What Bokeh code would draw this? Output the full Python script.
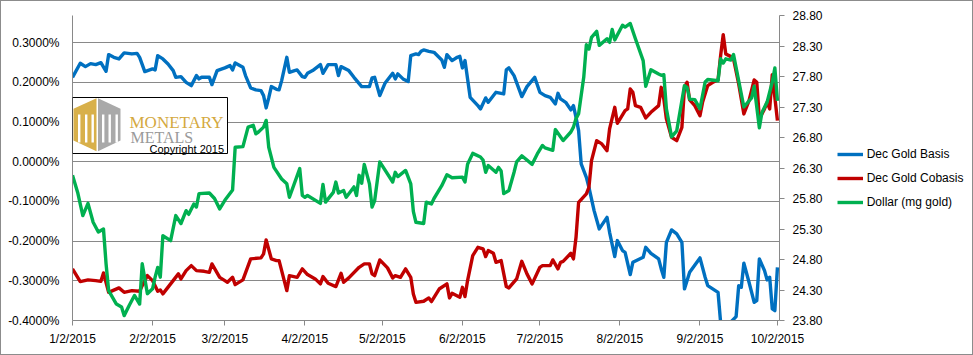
import pandas as pd
from bokeh.plotting import figure
from bokeh.layouts import row
from bokeh.models import (Range1d, LinearAxis, FixedTicker, PrintfTickFormatter, Legend,
                          LegendItem, BoxAnnotation, PolyAnnotation, Label)
from bokeh.embed import file_html
from bokeh.resources import INLINE

# ---------------- data (days counted from 2015-01-02) ----------------
START = pd.Timestamp("2015-01-02")

basis_day = [0, 3, 5, 7, 9, 11, 13, 14, 16, 18, 20, 23, 25, 26, 28, 31, 32, 33, 35, 37, 39, 40, 42, 44,
             46, 47, 48, 49, 50, 53, 54, 56, 59, 61, 62, 63, 66, 67, 69, 71, 73, 74, 75, 76, 77, 79, 80,
             81, 83, 84, 86, 87, 89, 90, 91, 93, 96, 97, 99, 102, 103, 104, 107, 109, 112, 115, 116, 117,
             119, 121, 124, 125, 126, 128, 130, 131, 133, 134, 135, 136, 138, 140, 143, 144, 145, 147,
             149, 150, 151, 152, 154, 157, 158, 160, 161, 164, 167, 168, 169, 171, 174, 176, 179, 181,
             183, 185, 187, 188, 189, 191, 193, 194, 195, 196, 197, 199, 200, 202, 204, 207, 208, 210,
             211, 213, 214, 216, 217, 221, 222, 224, 227, 228, 229, 230, 232, 234, 236, 237, 239, 243,
             245, 246, 250, 251, 254, 257, 258, 259, 260, 262, 264, 265, 266, 268, 269, 270, 271, 272, 273]
basis_pct = [0.2126, 0.2479, 0.2395, 0.2471, 0.2446, 0.2496, 0.2277, 0.2698, 0.2630, 0.2589, 0.2741,
             0.2715, 0.2730, 0.2630, 0.2270, 0.2338, 0.2312, 0.2673, 0.2589, 0.2463, 0.2295, 0.2126,
             0.2144, 0.2000, 0.1917, 0.2043, 0.2169, 0.2086, 0.2126, 0.2126, 0.1942, 0.2295, 0.2363,
             0.2421, 0.2312, 0.2489, 0.2378, 0.2169, 0.1859, 0.1809, 0.1791, 0.1665, 0.1355, 0.1607,
             0.1892, 0.1824, 0.1809, 0.2043, 0.2630, 0.2252, 0.2295, 0.2312, 0.2144, 0.2126, 0.2227,
             0.2295, 0.2446, 0.2227, 0.2446, 0.2446, 0.2169, 0.2395, 0.2295, 0.2126, 0.1892, 0.1892,
             0.2111, 0.2126, 0.1665, 0.1975, 0.2227, 0.2086, 0.2212, 0.2086, 0.2018, 0.2673, 0.2715,
             0.2698, 0.2781, 0.2816, 0.2781, 0.2756, 0.2564, 0.2378, 0.2698, 0.2547, 0.2630, 0.2655,
             0.2363, 0.2547, 0.1622, 0.1413, 0.1330, 0.1607, 0.1496, 0.1748, 0.1708, 0.2312, 0.2363,
             0.2169, 0.1640, 0.1892, 0.2126, 0.1748, 0.1665, 0.1622, 0.1456, 0.1723, 0.1582, 0.1496,
             0.1305, 0.1413, 0.1118, 0.0783, -0.0055, -0.0393, -0.0645, -0.1232, -0.1693, -0.1401,
             -0.1778, -0.2390, -0.1987, -0.2239, -0.2282, -0.2844, -0.2534, -0.2408, -0.2156, -0.2307,
             -0.2448, -0.2700, -0.2912, -0.2030, -0.1718, -0.1819, -0.2030, -0.3204, -0.2786, -0.2423,
             -0.2912, -0.3121, -0.3290, -0.4050, -0.4100, -0.3902, -0.3121, -0.3164, -0.2559, -0.3038,
             -0.3542, -0.3499, -0.2448, -0.2743, -0.2977, -0.2912, -0.3708, -0.3751, -0.2660]

cobasis_day = [0, 3, 6, 9, 11, 12, 14, 18, 20, 23, 26, 27, 29, 31, 33, 34, 35, 38, 41, 42, 44, 46, 48,
               51, 53, 54, 57, 59, 60, 62, 63, 66, 69, 73, 74, 75, 77, 79, 80, 83, 84, 87, 89, 91, 94,
               96, 97, 99, 102, 104, 105, 107, 111, 113, 115, 116, 117, 119, 122, 124, 125, 127, 129,
               131, 132, 133, 136, 138, 139, 142, 145, 146, 147, 150, 151, 152, 153, 155, 157, 159,
               160, 161, 163, 164, 166, 168, 169, 172, 174, 176, 178, 181, 182, 185, 186, 188, 189,
               190, 193, 194, 195, 196, 199, 200, 201, 203, 205, 207, 208, 210, 211, 214, 215, 216,
               217, 218, 220, 222, 224, 227, 228, 229, 230, 232, 234, 236, 237, 238, 239, 241, 243,
               244, 246, 248, 250, 251, 252, 253, 255, 256, 258, 260, 262, 264, 265, 266, 268, 269,
               270, 271, 272, 273]
cobasis_pct = [-0.2700, -0.3020, -0.2977, -0.2995, -0.3013, -0.2801, -0.3290, -0.3179, -0.3290,
               -0.3247, -0.3264, -0.3121, -0.2869, -0.2995, -0.3264, -0.3229, -0.3330, -0.3078,
               -0.2826, -0.2952, -0.2743, -0.2617, -0.2743, -0.2761, -0.2786, -0.2574, -0.2912,
               -0.2995, -0.3038, -0.2912, -0.3096, -0.2977, -0.2448, -0.2423, -0.2322, -0.1970,
               -0.2448, -0.2491, -0.2491, -0.3247, -0.2869, -0.2912, -0.2700, -0.2844, -0.2952,
               -0.3078, -0.2894, -0.3063, -0.3146, -0.2811, -0.3038, -0.2927, -0.2660, -0.2574,
               -0.2574, -0.2826, -0.2869, -0.2474, -0.2675, -0.2927, -0.2869, -0.2912, -0.2700,
               -0.2912, -0.3330, -0.3542, -0.3516, -0.3431, -0.3524, -0.3207, -0.3078, -0.3431,
               -0.3315, -0.3416, -0.3164, -0.3398, -0.2995, -0.2365, -0.2156, -0.2196, -0.2390,
               -0.2239, -0.2307, -0.2534, -0.2491, -0.3146, -0.3179, -0.2952, -0.2509, -0.2826,
               -0.3078, -0.2660, -0.2617, -0.2617, -0.2474, -0.2700, -0.2534, -0.2509, -0.2307,
               -0.2448, -0.1904, -0.1023, -0.0811, -0.0645, 0.0028, 0.0531, 0.0448, 0.0280, 0.0826,
               0.1370, 0.0967, 0.1287, 0.1330, 0.1834, 0.1748, 0.1413, 0.1370, 0.1103, 0.1244,
               0.1413, 0.1874, 0.1582, 0.1078, 0.0615, 0.0531, 0.0866, 0.1874, 0.2000, 0.1557,
               0.1413, 0.1161, 0.1496, 0.1917, 0.2000, 0.2060, 0.2673, 0.3202, 0.2715, 0.2647,
               0.2589, 0.1960, 0.1204, 0.1539, 0.2060, 0.2000, 0.1078, 0.1330, 0.1496, 0.1330,
               0.2194, 0.1622, 0.1035]

dollar_day = [0, 2, 4, 6, 8, 10, 12, 13, 14, 17, 19, 20, 22, 24, 26, 27, 29, 31, 32, 33, 34, 35, 38,
              40, 42, 44, 45, 47, 48, 49, 53, 55, 57, 59, 62, 63, 66, 68, 70, 71, 72, 74, 75, 76, 78,
              81, 83, 84, 88, 89, 90, 91, 96, 97, 98, 101, 102, 103, 105, 106, 109, 110, 111, 112,
              113, 115, 116, 117, 119, 124, 125, 126, 129, 131, 132, 133, 136, 137, 139, 140, 143,
              145, 147, 151, 152, 153, 155, 158, 159, 160, 161, 164, 165, 166, 167, 169, 171, 172,
              174, 178, 180, 182, 183, 186, 187, 190, 193, 194, 195, 196, 198, 199, 200, 201, 203,
              204, 207, 208, 209, 210, 213, 214, 216, 218, 221, 222, 224, 227, 228, 229, 230, 232,
              234, 237, 238, 239, 241, 243, 245, 246, 250, 251, 252, 253, 255, 256, 260, 263, 264,
              266, 267, 269, 271, 272, 273]
dollar_mg = [26.18, 25.90, 25.52, 25.72, 25.41, 25.25, 25.30, 24.73, 24.29, 24.07, 24.02, 23.88,
             24.05, 24.21, 24.07, 24.73, 24.24, 24.32, 24.51, 24.67, 24.51, 25.19, 25.11, 25.52,
             25.39, 25.60, 25.54, 25.71, 25.66, 25.88, 25.89, 25.80, 25.63, 25.77, 25.94, 26.64,
             26.65, 26.97, 27.00, 26.86, 26.89, 26.97, 27.08, 26.64, 26.31, 26.12, 26.04, 25.82,
             26.29, 25.85, 25.82, 25.85, 25.72, 26.03, 25.74, 25.90, 26.07, 25.89, 25.93, 25.82,
             25.99, 25.85, 26.18, 26.05, 26.36, 26.04, 25.66, 25.76, 26.40, 26.07, 26.23, 26.16,
             26.26, 26.04, 25.59, 25.41, 25.39, 25.74, 25.71, 25.80, 26.01, 26.19, 26.14, 26.15,
             26.07, 26.36, 26.54, 26.48, 26.43, 26.23, 26.34, 26.23, 26.31, 26.25, 25.88, 25.93,
             26.23, 26.40, 26.50, 26.36, 26.53, 26.67, 26.63, 26.59, 26.93, 26.75, 26.89, 26.97,
             27.11, 27.19, 27.79, 28.32, 28.25, 28.44, 28.54, 28.31, 28.42, 28.36, 28.57, 28.40,
             28.64, 28.61, 28.67, 28.42, 28.06, 27.64, 27.91, 27.84, 27.82, 27.83, 27.27, 26.81,
             26.91, 27.65, 27.62, 27.43, 27.42, 27.27, 27.71, 27.75, 27.73, 28.09, 28.02, 28.09,
             28.07, 28.16, 27.30, 27.45, 27.64, 26.96, 27.21, 27.38, 27.71, 27.94, 27.40]

series_names = ["Dec Gold Basis", "Dec Gold Cobasis", "Dollar (mg gold)"]
series_colors = ["#0070C0", "#C00000", "#00B050"]

x_tick_dates = ["2015-01-02", "2015-02-02", "2015-03-02", "2015-04-02", "2015-05-02",
                "2015-06-02", "2015-07-02", "2015-08-02", "2015-09-02", "2015-10-02"]
x_tick_labels = ["1/2/2015", "2/2/2015", "3/2/2015", "4/2/2015", "5/2/2015",
                 "6/2/2015", "7/2/2015", "8/2/2015", "9/2/2015", "10/2/2015"]
left_ticks = [-0.4, -0.3, -0.2, -0.1, 0.0, 0.1, 0.2, 0.3]
right_ticks = [23.8, 24.3, 24.8, 25.3, 25.8, 26.3, 26.8, 27.3, 27.8, 28.3, 28.8]


def to_dates(days):
    return [START + pd.Timedelta(days=d) for d in days]


GRAY = "#898989"
FONT = "Liberation Sans"
LW = 3.4
MAIN_W = 825
LEG_W = 971 - MAIN_W
H = 353

p = figure(width=MAIN_W, height=H, x_axis_type="datetime", output_backend="svg",
           toolbar_location=None,
           x_range=Range1d(START, START + pd.Timedelta(days=273.8)),
           y_range=Range1d(-0.4, 0.3683),
           min_border_left=71, min_border_right=MAIN_W - 778, min_border_top=14,
           min_border_bottom=34)
p.outline_line_color = None
p.background_fill_color = "white"
p.border_fill_color = "white"

p.extra_y_ranges = {"dollar": Range1d(23.8, 28.8)}

series = [(to_dates(basis_day), basis_pct, "default"),
          (to_dates(cobasis_day), cobasis_pct, "default"),
          (to_dates(dollar_day), dollar_mg, "dollar")]

# lines
for (xs, ys, rng), c in zip(series, series_colors):
    p.line(xs, ys, line_color=c, line_width=LW, line_join="round", y_range_name=rng)

# x axis
tick_ms = [int(pd.Timestamp(d).value // 10**6) for d in x_tick_dates]
xa = p.xaxis[0]
xa.ticker = FixedTicker(ticks=tick_ms)
xa.major_label_overrides = {t: lab for t, lab in zip(tick_ms, x_tick_labels)}
xa.minor_tick_line_color = None
xa.major_tick_out = 5
xa.major_tick_in = 0
xa.major_tick_line_color = GRAY
xa.axis_line_color = GRAY
xa.major_label_standoff = 6
xa.major_label_text_font = FONT
xa.major_label_text_font_size = "12px"
xa.major_label_text_color = "#000000"

# left axis
ya = p.yaxis[0]
ya.ticker = FixedTicker(ticks=left_ticks)
ya.formatter = PrintfTickFormatter(format="%.4f%%")
ya.major_tick_line_color = None
ya.minor_tick_line_color = None
ya.major_tick_out = 0
ya.major_tick_in = 0
ya.axis_line_color = GRAY
ya.major_label_standoff = 13
ya.major_label_text_font = FONT
ya.major_label_text_font_size = "12px"
ya.major_label_text_color = "#000000"

# right axis
ra = LinearAxis(y_range_name="dollar", ticker=FixedTicker(ticks=right_ticks),
                formatter=PrintfTickFormatter(format="%.2f"))
ra.major_tick_out = 5
ra.major_tick_in = 0
ra.minor_tick_line_color = None
ra.major_tick_line_color = GRAY
ra.axis_line_color = GRAY
ra.major_label_standoff = 8
ra.major_label_text_font = FONT
ra.major_label_text_font_size = "12px"
ra.major_label_text_color = "#000000"
p.add_layout(ra, "right")

p.xgrid.grid_line_color = None
p.ygrid.ticker = FixedTicker(ticks=left_ticks)
p.ygrid.grid_line_color = GRAY
p.ygrid.grid_line_width = 1

# logo box (screen units relative to the plot frame)
p.add_layout(BoxAnnotation(left=0, right=155, bottom=167, top=223,
                           left_units="screen", right_units="screen",
                           bottom_units="screen", top_units="screen",
                           fill_color="white", fill_alpha=1.0, line_color="black",
                           line_width=1, line_alpha=1.0, level="overlay"))
p.add_layout(PolyAnnotation(xs=[1, 24, 24, 1], ys=[211.7, 222.3, 169.3, 180],
                            xs_units="screen", ys_units="screen",
                            fill_color="#D8B04A", fill_alpha=1.0, line_color=None,
                            level="overlay"))
p.add_layout(PolyAnnotation(xs=[25.5, 48, 48, 25.5], ys=[222.3, 211.7, 180, 169.3],
                            xs_units="screen", ys_units="screen",
                            fill_color="#A9A9A9", fill_alpha=1.0, line_color=None,
                            level="overlay"))
for bx in [5.5, 12.5, 19.0, 29.5, 36.0, 43.0]:
    p.add_layout(BoxAnnotation(left=bx, right=bx + 2.4, bottom=178, top=206,
                               left_units="screen", right_units="screen",
                               bottom_units="screen", top_units="screen",
                               fill_color="white", fill_alpha=1.0, line_color=None,
                               level="overlay"))
p.add_layout(Label(x=57, y=198, x_units="screen", y_units="screen", text="MONETARY",
                   text_font="Liberation Serif", text_font_size="17px", text_color="#D4A93F",
                   text_baseline="alphabetic", level="overlay"))
p.add_layout(Label(x=58, y=183, x_units="screen", y_units="screen", text="METALS",
                   text_font="Liberation Serif", text_font_size="16px", text_color="#9A9A9A",
                   text_baseline="alphabetic", level="overlay"))
p.add_layout(Label(x=77, y=172, x_units="screen", y_units="screen", text="Copyright 2015",
                   text_font=FONT, text_font_size="11px", text_color="#000000",
                   text_baseline="alphabetic", level="overlay"))

# ---------------- legend panel (separate narrow figure, frames aligned with p) -------------
q = figure(width=LEG_W, height=H, output_backend="svg", toolbar_location=None,
           x_range=Range1d(0, 1), y_range=Range1d(0, 1),
           x_axis_location=None, y_axis_location=None, min_border=0)
q.outline_line_color = None
q.grid.visible = False
q.background_fill_color = "white"
q.border_fill_color = "white"
# same series drawn in q; they fall outside q's 0..1 ranges, so only their legend glyphs show
leg_r = [q.line(xs, ys, line_color=c, line_width=LW) for (xs, ys, _), c in zip(series, series_colors)]
legend = Legend(items=[LegendItem(label=n, renderers=[r]) for n, r in zip(series_names, leg_r)],
                location=(10.7, 106.5), orientation="vertical", padding=0, margin=0, spacing=0,
                glyph_width=26, glyph_height=24, label_height=24, label_standoff=4,
                border_line_color=None, background_fill_alpha=0,
                label_text_font=FONT, label_text_font_size="12px",
                label_text_color="#000000")
q.add_layout(legend)

layout = row(p, q, spacing=0)
layout.styles = {"border": "1px solid #8c8c8c"}

open("out.html", "w").write(file_html(layout, INLINE))
